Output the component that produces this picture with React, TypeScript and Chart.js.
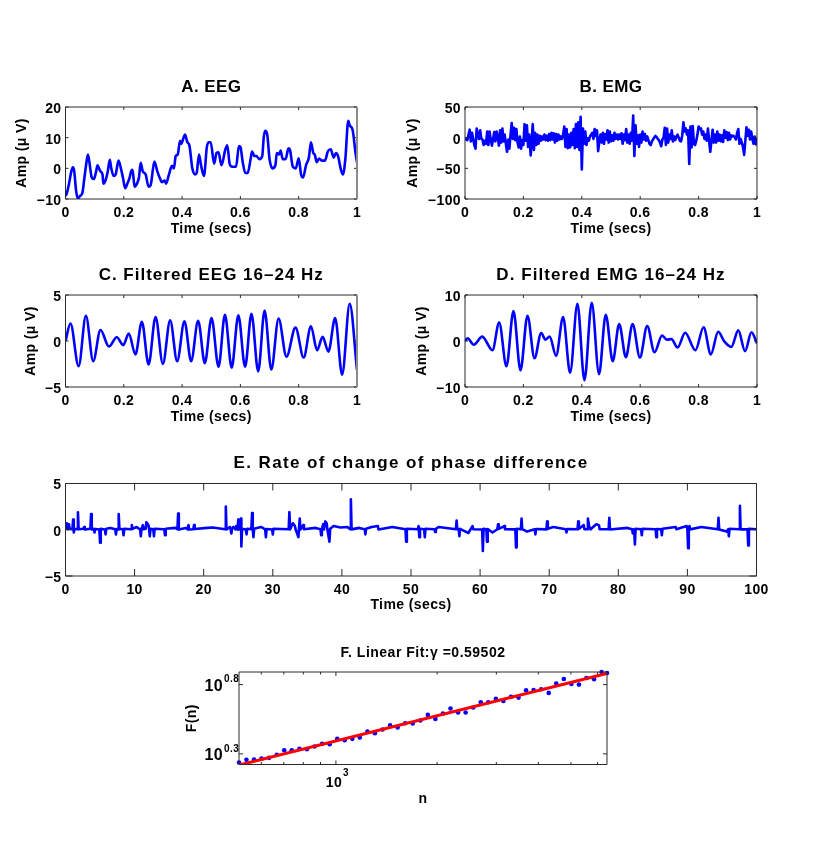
import React, { useEffect, useRef } from 'react';
import { Chart, registerables } from 'chart.js';

Chart.register(...registerables);

type Pt = [number, number];

const FONT = "'Liberation Sans', Arial, sans-serif";
const BLUE = '#0000ff';
const RED = '#ff0000';

// A. raw EEG
const eegSignal: Pt[] = [
  [0,-9],[.005,-8],[.012,-5],[.02,-1],[.025,.3],[.03,-1],[.036,-7],[.042,-9.8],[.05,-9],[.058,-8],[.065,-3],[.072,2],[.077,4.5],[.082,2],[.09,-3],[.097,-3.5],[.104,-1.5],[.11,1],[.115,0],[.12,-1],[.127,-2],[.13,-5],[.137,-4],[.145,-1],[.152,2.8],[.157,0],[.165,-2.5],[.172,-2],[.182,2.5],[.19,0],[.197,-3],[.205,-6.5],[.212,-5],[.22,-3],[.225,-1],[.23,-.5],[.237,-6],[.245,-5],[.252,-3],[.258,1.8],[.265,-1],[.275,-2],[.285,-6],[.292,-5.5],[.305,2.2],[.315,-1],[.325,-3.5],[.33,-4.5],[.34,-4],[.345,-5],[.355,-2],[.365,.8],[.372,0],[.378,4],[.385,4.5],[.393,9],[.397,8],[.405,10],[.41,11],[.418,8.5],[.425,7.5],[.435,0],[.445,-2],[.45,-1.5],[.458,4.5],[.465,1],[.475,-2.5],[.485,7],[.492,8.5],[.498,8.5],[.51,1.5],[.518,5],[.525,5.2],[.535,1],[.548,6],[.555,7.5],[.563,1.5],[.572,.5],[.585,.5],[.595,7.3],[.6,7],[.608,2],[.617,-1.5],[.625,-1.5],[.635,3],[.64,5.5],[.648,4],[.655,4],[.665,3],[.675,4],[.68,10],[.685,12.2],[.692,11],[.7,3],[.71,0],[.72,1],[.725,5],[.733,4.5],[.738,5.8],[.745,3],[.755,3],[.765,6.5],[.77,6],[.78,.5],[.79,0],[.8,3.3],[.808,-2],[.815,-3],[.825,1],[.835,3.5],[.842,8.5],[.85,5],[.855,4.5],[.862,2],[.87,3.2],[.88,2.5],[.89,2.5],[.9,5.5],[.91,6.2],[.92,3.5],[.928,5],[.935,4],[.945,-.5],[.952,-2],[.96,3],[.97,15.5],[.975,14],[.985,12.5],[.995,5],[1,2],
];

// B. raw EMG
const emgSignal: Pt[] = [
  [0,0],[.004,-3],[.008,-4],[.012,5],[.016,13],[.02,-6],[.024,8],[.028,-2],[.032,-12],[.036,-18],[.04,15],[.044,5],[.048,-2],[.052,12],[.056,-2],[.06,-3],[.064,-12],[.068,-5],[.072,-10],[.076,10],[.08,-12],[.084,10],[.088,-2],[.092,-13],[.096,-3],[.1,9],[.104,-6],[.108,10],[.112,2],[.116,-13],[.12,12],[.124,-8],[.128,15],[.132,-6],[.136,5],[.14,-10],[.144,-23],[.148,-3],[.152,-18],[.156,5],[.16,24],[.164,-2],[.168,16],[.172,-4],[.176,14],[.18,-8],[.184,-16],[.188,2],[.192,-18],
  [.196,-4],[.2,-12],[.204,22],[.208,-5],[.212,20],[.216,-15],[.22,5],[.225,-29],[.228,-8],[.232,22],[.236,-20],[.24,8],[.244,-12],[.248,5],[.252,-10],[.256,3],[.26,-5],[.264,2],[.268,-3],[.272,5],[.276,-4],[.28,3],[.284,-5],[.288,6],[.292,-4],[.296,8],[.3,-3],[.304,7],[.308,-8],[.312,6],[.316,-5],[.32,5],[.324,-3],[.328,2],[.332,-2],[.336,5],[.34,18],[.344,-15],[.348,14],[.352,-17],[.356,5],[.36,-16],[.364,8],[.368,-12],[.372,14],[.376,-17],[.38,22],[.384,-15],[.388,25],[.392,-20],[.396,34],[.4,-52],[.404,15],[.408,-10],[.412,10],[.416,-12],[.42,-1],[.424,-5],[.428,2],[.432,5],[.436,8],[.44,-2],[.444,14],[.448,3],[.452,12],[.456,-22],[.46,-6],[.464,5],[.468,-8],[.472,8],[.476,-10],[.48,6],[.484,-3],[.488,12],[.492,-8],[.496,10],
  [.5,-6],[.504,4],[.508,-5],[.512,8],[.516,-2],[.52,5],[.524,-3],[.528,5],[.532,-2],[.536,7],[.54,-10],[.544,5],[.548,-4],[.552,14],[.556,-8],[.56,5],[.564,-10],[.568,8],[.572,-5],[.576,36],[.58,-30],[.584,20],[.588,-10],[.592,4],[.596,-15],[.6,5],[.604,-8],[.608,10],[.612,-3],[.616,6],[.62,-5],[.624,2],[.628,-4],[.632,-10],[.636,-12],[.64,-6],[.644,-3],[.648,0],[.652,3],[.656,1],[.66,-2],[.664,-4],[.668,-8],[.672,-14],[.676,-3],[.68,0],[.684,16],[.688,-12],[.692,15],[.696,-8],[.7,5],[.704,-2],[.708,12],[.712,-6],[.716,2],[.72,-4],[.724,2],[.728,5],[.732,0],[.736,-5],[.74,-6],[.744,4],[.748,25],[.752,10],[.756,15],[.76,5],[.764,12],[.768,-43],[.772,18],[.776,-16],[.78,19],[.784,-10],[.788,-12],[.792,-5],[.796,5],[.8,18],[.804,14],[.808,15],[.812,5],[.816,10],[.82,-2],[.824,5],[.828,-5],[.832,15],[.836,-5],[.84,-23],[.844,-5],[.848,13],[.852,-8],[.856,5],[.86,-8],[.864,10],[.868,-5],[.872,5],[.876,-6],[.88,4],[.884,-7],[.888,12],[.892,0],[.896,9],[.9,-4],[.904,8],[.908,-3],[.912,4],[.916,2],[.92,3],[.924,0],[.928,-3],[.932,8],[.936,14],[.94,-10],[.944,-2],[.948,-8],[.952,-15],[.956,-28],[.96,-5],[.964,17],[.968,3],[.972,13],[.976,-3],[.98,10],[.984,-2],[.988,-10],[.992,2],[.996,-11],[1,0],
];

// C. filtered EEG, turning points
const filteredEeg: Pt[] = [
  [0,0],[.017,1.9],[.045,-2.75],[.07,2.75],[.095,-2.2],[.12,1.2],[.149,-.6],[.176,.4],[.198,-.45],[.217,.8],[.24,-1.45],[.262,2.1],[.285,-2.55],[.309,2.6],[.334,-2.5],[.359,2.25],[.383,-2.2],[.408,2.15],[.431,-2.2],[.455,2.2],[.478,-2.4],[.501,2.5],[.525,-2.8],[.547,2.85],[.57,-2.9],[.593,2.8],[.616,-2.8],[.638,2.95],[.661,-3.3],[.683,3.3],[.706,-3.1],[.731,2.45],[.758,-1.7],[.789,1.45],[.817,-1.8],[.842,1.6],[.863,-1],[.882,.45],[.902,-1.15],[.925,2.5],[.949,-3.65],[.975,4.05],[1,-3.15],
];

// D. filtered EMG, turning points
const filteredEmg: Pt[] = [
  [0,0],[.009,.6],[.03,-.8],[.059,.95],[.094,-2],[.117,4],[.142,-5.5],[.166,6.5],[.19,-6.4],[.214,5.5],[.238,-3.75],[.261,1.75],[.275,.3],[.29,.95],[.312,-3.2],[.336,5.2],[.36,-6.9],[.385,8.1],[.409,-8.5],[.434,8.3],[.459,-7.2],[.482,5.7],[.506,-4.4],[.528,3.7],[.551,-3.5],[.574,3.7],[.599,-3.6],[.624,3.25],[.649,-2.45],[.675,1.2],[.691,.3],[.707,.4],[.728,-1.4],[.754,1.8],[.789,-2],[.817,3],[.842,-2.9],[.867,2],[.888,-.1],[.912,-1.3],[.936,2.3],[.959,-2.2],[.981,1.9],[1,-.5],
];

// E. rate of change of phase difference: a flat trace with narrow spikes
const phaseRate: Pt[] = [
  [0,.1],[.2,.7],[.3,.05],[.5,.6],[.6,.1],[1,.05],[1.1,1.1],[1.2,-.3],[1.3,.1],[1.7,.05],[1.8,1.9],[1.9,.05],[2.6,.1],[2.7,.3],[2.8,.02],[3.6,.1],[3.7,1.7],[3.8,.03],[4.1,.1],[4.2,-.3],[4.3,.08],[4.9,.02],[5,-1.4],[5.1,.1],[5.7,.03],[5.8,-.5],[5.9,.1],[6.5,.2],[7.2,.05],[7.3,-.5],[7.4,.08],[7.6,.02],[7.7,1.7],[7.8,.1],[8.3,.04],[8.4,-.6],[8.5,.1],[9.5,.06],[9.6,.5],[9.7,.1],[10.3,.3],[10.8,.02],[10.9,-.7],[11,.1],[11.2,.5],[11.3,.06],[11.6,.1],[11.7,.8],[12,.5],[12.1,.05],[12.2,-.7],[12.3,.1],[12.7,.04],[12.8,-.7],[12.9,.1],[14.3,.05],[14.4,-.6],[14.5,.1],[15.9,.2],[16.2,.05],[16.3,1.75],[16.4,.02],[17.4,.2],[17.7,.04],[17.8,.5],[17.9,.02],[18.5,.06],[18.6,.5],[18.7,.08],[20.5,.2],[21.3,.25],[23.1,.05],[23.2,2.5],[23.3,.02],[23.8,.3],[23.9,.05],[24,-.4],[24.1,.1],[24.3,.3],[24.6,.05],[24.7,.4],[24.9,.02],[25,1.1],[25.1,.03],[25.3,.05],[25.4,1.2],[25.45,-1.8],[25.55,.1],[26.1,.03],[26.2,-.5],[26.3,.1],[26.9,.05],[27,1.8],[27.1,.02],[27.2,-.8],[27.3,.1],[28.3,.3],[28.9,.05],[29,-.8],[29.1,.08],[29.9,.03],[30,-.5],[30.1,.1],[32.3,.06],[32.4,1.9],[32.5,.03],[32.9,.7],[33.2,.4],[33.3,.04],[33.7,-.8],[33.9,1.2],[34,.03],[34.4,.5],[34.5,.06],[36.2,.2],[36.9,.05],[37,-.6],[37.1,.08],[37.3,.6],[37.4,.03],[37.6,.9],[37.8,.7],[37.9,.02],[38.2,-1.3],[38.3,.1],[38.8,.4],[39.8,.25],[40.8,.3],[41.2,.05],[41.3,3.3],[41.4,.04],[42.5,.2],[43.3,.05],[43.4,-.5],[43.5,.1],[44.3,.3],[45.2,.4],[45.3,.03],[47.3,.3],[49.2,.05],[49.3,-1.3],[49.4,.1],
  [51,.05],[51.1,.4],[51.2,-.8],[51.3,.1],[51.9,.05],[52,-.8],[52.1,.1],[53.4,.05],[53.5,-.25],[53.6,.1],[54,.3],[56.5,.05],[56.6,1],[56.7,.06],[56.9,.04],[57,-.7],[57.1,.1],[57.9,-.2],[58.3,-.35],[58.9,.4],[59,.05],[60.3,.02],[60.4,-2.3],[60.5,.1],[60.9,.05],[61,-1.3],[61.1,.08],[61.8,-.3],[62.5,.05],[62.6,.6],[62.7,.1],[63.5,.4],[63.6,.05],[65.1,.04],[65.2,-1.9],[65.3,.1],[65.9,.05],[66,1.2],[66.1,.06],[66.8,-.2],[67.9,.05],[68,-.5],[68.1,.08],[69.6,.04],[69.7,.9],[69.8,.1],[70.6,.3],[72.4,.05],[72.5,-.3],[72.6,.08],[74.1,.05],[74.2,.9],[74.3,.1],[75,.5],[75.1,.05],[75.5,.06],[75.6,1.2],[75.8,.3],[76,.05],[76.8,.6],[77.2,.5],[77.3,.06],[78.6,.05],[78.7,1.3],[78.8,.03],[81.3,.2],[82,.05],[82.1,-.4],[82.3,.02],[82.4,-1.6],[82.5,.1],[83.3,.05],[83.4,-.6],[83.5,.1],[85.4,.06],[85.5,-.8],[85.6,.08],[86.2,.05],[86.3,-.6],[86.4,.1],[88.3,.3],[88.4,.06],[89.9,.4],[90,.05],[90.1,-2],[90.2,.1],[90.3,.4],[90.4,.04],[92,.3],[94.4,.06],[94.5,1.3],[94.6,.03],[95.7,-.2],[95.9,.05],[96,-.7],[96.1,.1],[97.5,.06],[97.6,2.6],[97.7,.04],[98.7,.05],[98.8,-1.7],[98.9,.1],[100,.05],
];

// F. fluctuation points and the fitted line
const fitN = [515,542,571,601,633,667,702,739,779,820,864,910,958,1009,1062,1119,1178,1241,1306,1376,1449,1526,1607,1692,1782,1877,1976,2081,2192,2308,2431,2560,2696,2839,2990,3148,3316,3492,3677,3872,4078,4294,4522,4762,5015,5281,5562,5857,6168,6400];
const fitF = [1.728,1.806,1.816,1.846,1.867,1.963,2.12,2.12,2.168,2.156,2.254,2.356,2.343,2.56,2.504,2.56,2.617,2.891,2.812,2.989,3.212,3.09,3.32,3.302,3.47,3.813,3.568,3.898,4.237,3.963,3.963,4.307,4.706,4.706,4.975,4.811,5.142,5.084,5.742,5.774,5.838,5.495,6.416,6.933,6.38,6.31,7.05,6.895,7.785,7.657];
const fitLineN = [515, 6400];
const fitLineF = [1.655, 7.6];

const unitTimeTicks = [0, 0.2, 0.4, 0.6, 0.8, 1];
const longTimeTicks = [0, 10, 20, 30, 40, 50, 60, 70, 80, 90, 100];
const eegTicks = [-10, 0, 10, 20];
const emgTicks = [-100, -50, 0, 50];
const filteredEegTicks = [-5, 0, 5];
const filteredEmgTicks = [-10, 0, 10];
const rateTicks = [-5, 0, 5];
const fitXTicks = [600, 700, 800, 900, 1000, 2000, 3000, 4000, 5000, 6000];
const fitYTicks = [1.9953, 6.3096];

const WIDTH = 817;
const HEIGHT = 859;

const minus = (v: number) => String(v).replace('-', '\u2212');

// box round the plot, with inward ticks on all four sides like matlab
const frame = (tickLen: number, titleSpacing: number, greyRight: boolean) => ({
  id: 'frame',
  beforeDraw(chart: any) {
    chart.ctx.letterSpacing = '0.4px';
    // only the title gets the wider tracking
    const block = chart.titleBlock;
    if (!block.spaced) {
      const draw = block.draw;
      block.spaced = true;
      block.draw = function () {
        chart.ctx.letterSpacing = `${titleSpacing}px`;
        draw.call(block);
        chart.ctx.letterSpacing = '0.4px';
      };
    }
  },
  afterDatasetsDraw(chart: any) {
    const { ctx, chartArea: a, scales } = chart;
    ctx.save();
    ctx.strokeStyle = '#2b2b2b';
    ctx.lineWidth = 1;
    ctx.beginPath();
    ctx.rect(a.left, a.top, a.right - a.left, a.bottom - a.top);
    scales.x.ticks.forEach((t: any) => {
      const p = scales.x.getPixelForValue(t.value);
      const len = scales.x.type === 'logarithmic' && t.value !== 1000 ? 2.5 : tickLen;
      ctx.moveTo(p, a.bottom);
      ctx.lineTo(p, a.bottom - len);
      ctx.moveTo(p, a.top);
      ctx.lineTo(p, a.top + len);
    });
    scales.y.ticks.forEach((t: any) => {
      const p = scales.y.getPixelForValue(t.value);
      ctx.moveTo(a.left, p);
      ctx.lineTo(a.left + tickLen, p);
      ctx.moveTo(a.right, p);
      ctx.lineTo(a.right - tickLen, p);
    });
    ctx.stroke();
    if (greyRight) {
      ctx.strokeStyle = '#8a8a8a';
      ctx.lineWidth = 2;
      ctx.beginPath();
      ctx.moveTo(a.right, a.top);
      ctx.lineTo(a.right, a.bottom);
      ctx.stroke();
    }
    ctx.restore();
  },
});

// the small powers next to the "10" tick labels of panel F
const powers = {
  id: 'powers',
  afterDraw(chart: any) {
    const { ctx, scales } = chart;
    ctx.save();
    ctx.fillStyle = '#000';
    ctx.textBaseline = 'middle';
    ctx.textAlign = 'left';
    ctx.font = `bold 10px ${FONT}`;
    ctx.fillText('0.3', 224, scales.y.getPixelForValue(fitYTicks[0]) - 5);
    ctx.fillText('0.8', 224, scales.y.getPixelForValue(fitYTicks[1]) - 5);
    ctx.fillText('3', scales.x.getPixelForValue(1000) + 7, 773);
    ctx.restore();
  },
};

interface PanelSpec {
  title: string;
  titleSize: number;
  titleSpacing: number;
  titleY: number;
  box: [number, number, number, number]; // left, right, top, bottom
  yTitle: string;
  yTitleX: number;
  xTitle: string;
  xTitleY: number;
  xRange: [number, number];
  yRange: [number, number];
  xTicks: number[];
  yTicks: number[];
  tickLen: number;
  datasets: any[];
  log?: boolean;
  greyRight?: boolean;
}

const lineSet = (data: Pt[], smooth: boolean) => ({
  data: data.map(([x, y]) => ({ x, y })),
  showLine: true,
  borderColor: BLUE,
  borderWidth: 2.6,
  borderJoinStyle: 'round',
  pointRadius: 0,
  cubicInterpolationMode: smooth ? 'monotone' : 'default',
  tension: 0,
});

const topRowY = { titleY: 87, xTitleY: 229 };
const midRowY = { titleY: 275, xTitleY: 417 };

const panels: PanelSpec[] = [
  {
    title: 'A. EEG', titleSize: 17, titleSpacing: 0.4, ...topRowY, box: [65.5, 357, 107, 199],
    yTitle: 'Amp (\u03bc V)', yTitleX: 22, xTitle: 'Time (secs)', greyRight: true,
    xRange: [0, 1], yRange: [-10, 20], xTicks: unitTimeTicks, yTicks: eegTicks, tickLen: 3,
    datasets: [lineSet(eegSignal, true)],
  },
  {
    title: 'B. EMG', titleSize: 17, titleSpacing: 0.4, ...topRowY, box: [465, 757, 107, 199],
    yTitle: 'Amp (\u03bc V)', yTitleX: 413, xTitle: 'Time (secs)',
    xRange: [0, 1], yRange: [-100, 50], xTicks: unitTimeTicks, yTicks: emgTicks, tickLen: 3,
    datasets: [lineSet(emgSignal, false)],
  },
  {
    title: 'C. Filtered EEG 16\u201324 Hz', titleSize: 17, titleSpacing: 1, ...midRowY, box: [65.5, 357, 295, 387],
    yTitle: 'Amp (\u03bc V)', yTitleX: 31, xTitle: 'Time (secs)', greyRight: true,
    xRange: [0, 1], yRange: [-5, 5], xTicks: unitTimeTicks, yTicks: filteredEegTicks, tickLen: 3,
    datasets: [lineSet(filteredEeg, true)],
  },
  {
    title: 'D. Filtered EMG 16\u201324 Hz', titleSize: 17, titleSpacing: 1.05, ...midRowY, box: [465, 757, 295, 387],
    yTitle: 'Amp (\u03bc V)', yTitleX: 422, xTitle: 'Time (secs)',
    xRange: [0, 1], yRange: [-10, 10], xTicks: unitTimeTicks, yTicks: filteredEmgTicks, tickLen: 3,
    datasets: [lineSet(filteredEmg, true)],
  },
  {
    title: 'E. Rate of change of phase difference', titleSize: 17, titleSpacing: 1.4, titleY: 463, xTitleY: 605,
    box: [65.5, 756.5, 483.5, 576],
    yTitle: '', yTitleX: 30, xTitle: 'Time (secs)',
    xRange: [0, 100], yRange: [-5, 5], xTicks: longTimeTicks, yTicks: rateTicks, tickLen: 7,
    datasets: [lineSet(phaseRate, false)],
  },
  {
    title: 'F. Linear Fit:\u03b3 =0.59502', titleSize: 14, titleSpacing: 0.5, titleY: 653, xTitleY: 799,
    box: [239, 607, 672, 764.5],
    yTitle: 'F(n)', yTitleX: 192, xTitle: 'n',
    xRange: [515, 6400], yRange: [1.671, 7.78], xTicks: fitXTicks, yTicks: fitYTicks, tickLen: 4, log: true,
    datasets: [
      {
        data: fitLineN.map((x, i) => ({ x, y: fitLineF[i] })),
        showLine: true, borderColor: RED, borderWidth: 3, pointRadius: 0,
      },
      {
        data: fitN.map((x, i) => ({ x, y: fitF[i] })),
        showLine: false, pointRadius: 2.3, pointBackgroundColor: BLUE, pointBorderWidth: 0, clip: false,
      },
    ],
  },
];

const Panel: React.FC<{ spec: PanelSpec }> = ({ spec }) => {
  const canvasRef = useRef<HTMLCanvasElement | null>(null);

  useEffect(() => {
    if (!canvasRef.current) return;
    const [left, right, top, bottom] = spec.box;
    const tickFont = { family: FONT, size: 14, weight: 'bold' as const };
    const axisFont = { family: FONT, size: 14, weight: 'bold' as const, lineHeight: 1.2 };
    const titleLine = spec.titleSize * 1.2;
    const axisLine = 14 * 1.2;
    const paddingLeft = spec.yTitleX - axisLine / 2;
    const paddingTop = spec.titleY - titleLine / 2;
    const scaleBottom = spec.xTitleY + axisLine / 2;
    const frameTicks = frame(spec.tickLen, spec.titleSpacing, !!spec.greyRight);

    const chart = new Chart(canvasRef.current, {
      type: 'scatter',
      data: { datasets: spec.datasets },
      plugins: spec.log ? [frameTicks, powers] : [frameTicks],
      options: {
        animation: false,
        responsive: false,
        events: [],
        layout: {
          padding: { left: paddingLeft, right: WIDTH - right, top: paddingTop, bottom: HEIGHT - scaleBottom },
        },
        plugins: {
          legend: { display: false },
          tooltip: { enabled: false },
          title: {
            display: true,
            text: spec.title,
            fullSize: false,
            color: '#000',
            font: { family: FONT, size: spec.titleSize, weight: 'bold', lineHeight: 1.2 },
            padding: { top: 0, bottom: top - paddingTop - titleLine },
          },
        },
        scales: {
          x: {
            type: spec.log ? 'logarithmic' : 'linear',
            min: spec.xRange[0],
            max: spec.xRange[1],
            grid: { display: false, drawTicks: false },
            border: { display: false },
            afterBuildTicks: (s: any) => { s.ticks = spec.xTicks.map((value) => ({ value })); },
            afterFit: (s: any) => { s.height = scaleBottom - bottom; },
            ticks: {
              font: tickFont, color: '#000', padding: spec.log ? 10 : 6, autoSkip: false, maxRotation: 0,
              labelOffset: spec.log ? -2 : 0,
              callback: (v: any) => (spec.log ? (v === 1000 ? '10' : '') : minus(v)),
            },
            title: { display: true, text: spec.xTitle, color: '#000', font: axisFont, padding: 0 },
          },
          y: {
            type: spec.log ? 'logarithmic' : 'linear',
            min: spec.yRange[0],
            max: spec.yRange[1],
            grid: { display: false, drawTicks: false },
            border: { display: false },
            afterBuildTicks: (s: any) => { s.ticks = spec.yTicks.map((value) => ({ value })); },
            afterFit: (s: any) => { s.width = left - paddingLeft; },
            ticks: {
              font: spec.log ? { ...tickFont, size: 16 } : tickFont, color: '#000', padding: spec.log ? 16 : 4, autoSkip: false,
              labelOffset: 2,
              callback: (v: any) => (spec.log ? '10' : minus(v)),
            },
            title: { display: !!spec.yTitle, text: spec.yTitle, color: '#000', font: axisFont, padding: 0 },
          },
        },
      } as any,
    });

    return () => chart.destroy();
  }, [spec]);

  return (
    <canvas
      ref={canvasRef}
      width={WIDTH}
      height={HEIGHT}
      style={{ position: 'absolute', left: 0, top: 0, width: WIDTH, height: HEIGHT }}
    />
  );
};

export default function App() {
  return (
    <div style={{ position: 'absolute', left: 0, top: 0, width: WIDTH, height: HEIGHT, background: '#fff', overflow: 'hidden' }}>
      {panels.map((p) => (
        <Panel key={p.title} spec={p} />
      ))}
    </div>
  );
}
